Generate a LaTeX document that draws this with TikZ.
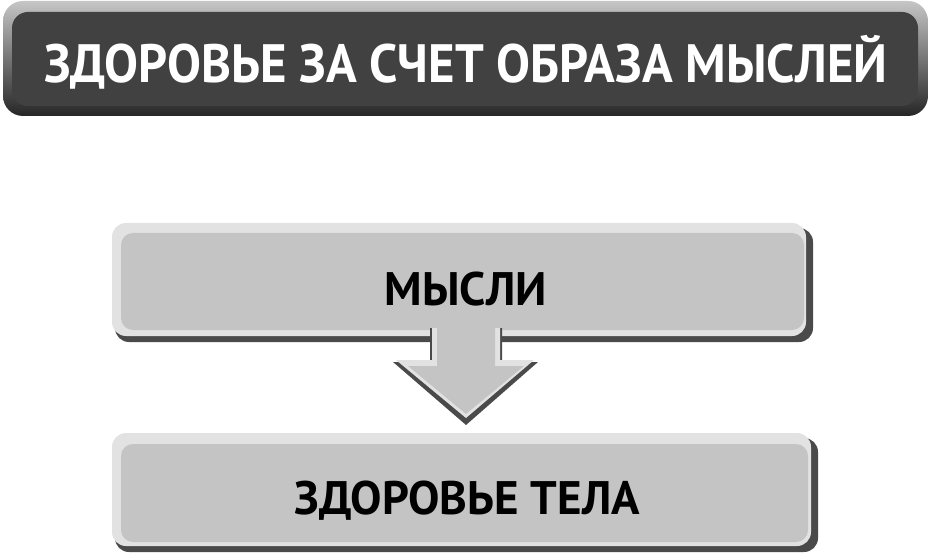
\documentclass[tikz,border=0pt]{standalone}
\usepackage{fontspec}
\setmainfont{PT Sans}
\usepackage{xcolor}
\usepackage{tikz}

\definecolor{facegray}{HTML}{C4C4C4}
\definecolor{edgedark}{HTML}{4A4A4A}
\definecolor{edgelight}{HTML}{E2E2E2}
\definecolor{titleface}{HTML}{414141}

\tikzset{
  shadowbox/.style={fill=edgedark, rounded corners=14pt},
  lightbox/.style={fill=edgelight, rounded corners=14pt},
  facebox/.style={fill=facegray, rounded corners=12pt},
  boxtext/.style={font=\bfseries\fontsize{47}{50}\selectfont, text=black, inner sep=0pt},
  titletext/.style={font=\bfseries\fontsize{54}{58}\selectfont, text=white, inner sep=0pt}
}

\begin{document}
\begin{tikzpicture}[x=1pt, y=-1pt]
\useasboundingbox (0,0) rectangle (931,553);

% title bar
\shade[top color=gray!45, bottom color=black!85, rounded corners=20pt] (3,1) rectangle (928,116);
\fill[titleface, rounded corners=16pt] (12,12) rectangle (918,106);
\node[titletext, anchor=base] (title) at (466,83) {\scalebox{0.94}[1]{ЗДОРОВЬЕ ЗА СЧЕТ ОБРАЗА МЫСЛЕЙ}};

% upper box
\fill[shadowbox] (115,228) rectangle (813,342);
\fill[lightbox] (112,223) rectangle (806,336);
\fill[facebox] (121,233) rectangle (804,330);
\node[boxtext, anchor=base] (mysli) at (466,305) {МЫСЛИ};

% arrow
\fill[edgedark] (430,328)--(430,362)--(393,362)--(466,425)--(538,362)--(502,362)--(502,328)--cycle;
\fill[edgelight] (432,328)--(432,360)--(396,360)--(466,418)--(534,360)--(500,360)--(500,328)--cycle;
\fill[facegray] (437,328)--(437,366)--(408,366)--(466,414)--(524,366)--(495,366)--(495,328)--cycle;

% lower box
\fill[shadowbox] (115,438) rectangle (818,552);
\fill[lightbox] (112,433) rectangle (811,546);
\fill[facebox] (121,444) rectangle (808,542);
\node[boxtext, anchor=base] (telo) at (467,514) {ЗДОРОВЬЕ ТЕЛА};

\end{tikzpicture}
\end{document}
